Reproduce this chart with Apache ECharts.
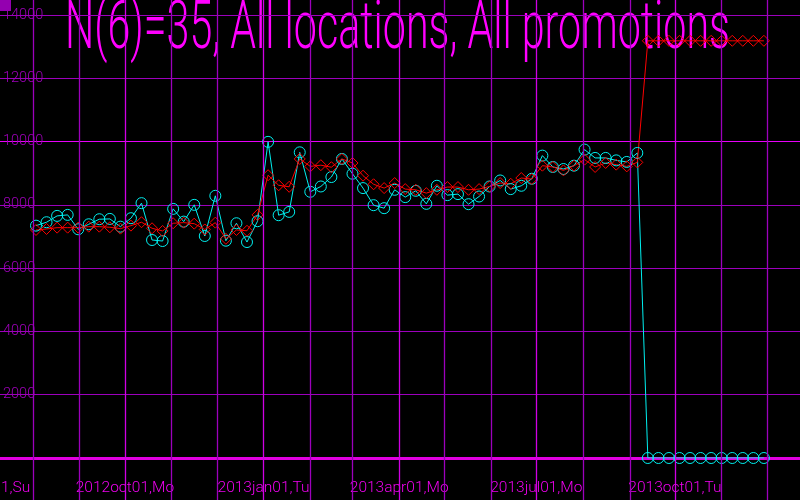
<!DOCTYPE html>
<html>
<head>
<meta charset="utf-8">
<script src="https://cdn.jsdelivr.net/npm/echarts@6/dist/echarts.min.js"></script>
<style>
html,body{margin:0;padding:0;background:#000;}
#chart{width:800px;height:500px;}
</style>
</head>
<body>
<div id="chart"></div>
<script>
// ---- data ----
const titleText = 'N(6)=35, All locations, All promotions';
const firstWeek = '2012-08-03';   // first weekly observation
const weekCount = 70;
const actual = [
  7343, 7451, 7651, 7683, 7229, 7387, 7546, 7556, 7311, 7578,
  8054, 6889, 6857, 7873, 7470, 8000, 7016, 8286, 6867, 7419,
  6825, 7483, 9991, 7673, 7778, 9660, 8413, 8581, 8879, 9451,
  8984, 8530, 7990, 7895, 8476, 8244, 8444, 8032, 8603, 8308,
  8340, 8022, 8264, 8581, 8771, 8498, 8603, 8825, 9556, 9197,
  9133, 9238, 9746, 9483, 9483, 9406, 9356, 9641, 0, 0,
  0, 0, 0, 0, 0, 0, 0, 0, 0, 0
];
const forecast = [
  7206, 7238, 7279, 7279, 7279, 7311, 7311, 7292, 7248, 7343,
  7451, 7260, 7175, 7419, 7438, 7406, 7222, 7438, 6927, 7206,
  7181, 7683, 8937, 8619, 8571, 9451, 9216, 9254, 9190, 9451,
  9324, 8921, 8651, 8530, 8689, 8498, 8476, 8371, 8476, 8562,
  8562, 8476, 8498, 8581, 8689, 8667, 8848, 8816, 9238, 9197,
  9089, 9238, 9429, 9197, 9324, 9270, 9216, 9343, 13184, 13184,
  13184, 13184, 13184, 13184, 13184, 13184, 13184, 13184, 13184, 13184
];
const yTicks = [0, 2000, 4000, 6000, 8000, 10000, 12000, 14000];
const monthLines = ['2012-07-01','2012-08-01','2012-09-01','2012-10-01','2012-11-01','2012-12-01',
  '2013-01-01','2013-02-01','2013-03-01','2013-04-01','2013-05-01','2013-06-01',
  '2013-07-01','2013-08-01','2013-09-01','2013-10-01','2013-11-01','2013-12-01'];
const quarterLabels = ['2012-07-01','2012-10-01','2013-01-01','2013-04-01','2013-07-01','2013-10-01'];
const axisStart = '2012-06-13T13:30:00Z';
const axisEnd = '2013-12-22T23:00:00Z';

// ---- helpers ----
const DAY = 864e5;
const ts = s => Date.parse(s.length === 10 ? s + 'T00:00:00Z' : s);
const t0 = ts(firstWeek);
const weekDates = [];
for (let i = 0; i < weekCount; i++) weekDates.push(t0 + i * 7 * DAY);
const mon = ['jan','feb','mar','apr','may','jun','jul','aug','sep','oct','nov','dec'];
const dow = ['Su','Mo','Tu','We','Th','Fr','Sa'];
function fmtDate(v) {
  const d = new Date(v);
  const dd = String(d.getUTCDate()).padStart(2, '0');
  return d.getUTCFullYear() + mon[d.getUTCMonth()] + dd + ',' + dow[d.getUTCDay()];
}
const xMin = ts(axisStart), xMax = ts(axisEnd);
const quarterTs = quarterLabels.map(ts);
const monthMarks = monthLines.map(s => {
  const t = ts(s);
  const q = quarterTs.indexOf(t) >= 0;
  return {xAxis: t, lineStyle: {color: q ? '#d000e4' : '#9c00bc', width: 1.3, type: 'solid', opacity: 1}};
});

const titleFont = '300 67px Roboto';
const mctx = document.createElement('canvas').getContext('2d');
mctx.font = titleFont;
const titleScale = 665 / mctx.measureText(titleText).width;

const labelFont = 'Roboto';

const chart = echarts.init(document.getElementById('chart'), null, {renderer: 'canvas'});
chart.setOption({
  backgroundColor: '#000',
  animation: false,
  grid: [
    {left: -40, right: 0, top: 15, bottom: 42, containLabel: false, outerBoundsMode: 'none'},
    {left: -40, right: 0, top: 0, bottom: 0, containLabel: false, outerBoundsMode: 'none'}
  ],
  xAxis: [
    {
      type: 'value', gridIndex: 0, min: xMin, max: xMax, scale: true,
      axisLine: {show: true, onZero: false, lineStyle: {color: '#e000e0', width: 3}},
      axisTick: {show: false},
      splitLine: {show: false},
      axisLabel: {
        customValues: quarterTs,
        formatter: fmtDate,
        color: '#f000f0', fontFamily: labelFont, fontWeight: 300, fontSize: 15.5, margin: 22
      }
    },
    {
      type: 'value', gridIndex: 1, min: xMin, max: xMax, scale: true,
      axisLine: {show: false}, axisTick: {show: false}, axisLabel: {show: false},
      splitLine: {show: false}
    }
  ],
  yAxis: [
    {
      type: 'value', gridIndex: 0, min: 0, max: 14000, interval: 2000,
      position: 'left', offset: -40,
      axisLine: {show: false}, axisTick: {show: false},
      axisLabel: {inside: true, margin: 3, color: '#a000bc', fontFamily: labelFont, fontWeight: 300,
        fontSize: 14.5, showMinLabel: false, formatter: v => String(v)},
      splitLine: {show: true, lineStyle: {width: 1,
        color: ['#ffffff', '#9c00bc', '#9c00bc', '#9c00bc', '#9c00bc', '#e800f8', '#9c00bc', '#9c00bc']}}
    },
    {type: 'value', gridIndex: 1, min: 0, max: 1, show: false}
  ],
  graphic: [
    {type: 'rect', left: 0, top: 0, shape: {width: 11, height: 11}, style: {fill: '#9400b0'}, z: 10},
    {type: 'text', x: 65, y: 31, scaleX: titleScale, z: 0,
      style: {text: titleText, font: titleFont, fill: '#ff00ff', verticalAlign: 'middle', align: 'left'}}
  ],
  series: [
    {
      name: 'months', type: 'line', xAxisIndex: 1, yAxisIndex: 1, data: [], z: 1,
      markLine: {silent: true, symbol: ['none', 'none'], label: {show: false}, animation: false,
        emphasis: {disabled: true}, data: monthMarks}
    },
    {
      name: 'actual', type: 'line', xAxisIndex: 0, yAxisIndex: 0, z: 3,
      data: weekDates.map((d, i) => [d, actual[i]]),
      symbol: 'circle', symbolSize: 11,
      lineStyle: {color: '#00f0f0', width: 1},
      itemStyle: {color: 'rgba(0,0,0,0)', borderColor: '#00f0f0', borderWidth: 1},
      emphasis: {disabled: true}
    },
    {
      name: 'forecast', type: 'line', xAxisIndex: 0, yAxisIndex: 0, z: 3,
      data: weekDates.map((d, i) => [d, forecast[i]]),
      symbol: 'diamond', symbolSize: 11,
      lineStyle: {color: '#ff0000', width: 1},
      itemStyle: {color: 'rgba(0,0,0,0)', borderColor: '#ff0000', borderWidth: 1},
      emphasis: {disabled: true}
    }
  ]
});
</script>
</body>
</html>
